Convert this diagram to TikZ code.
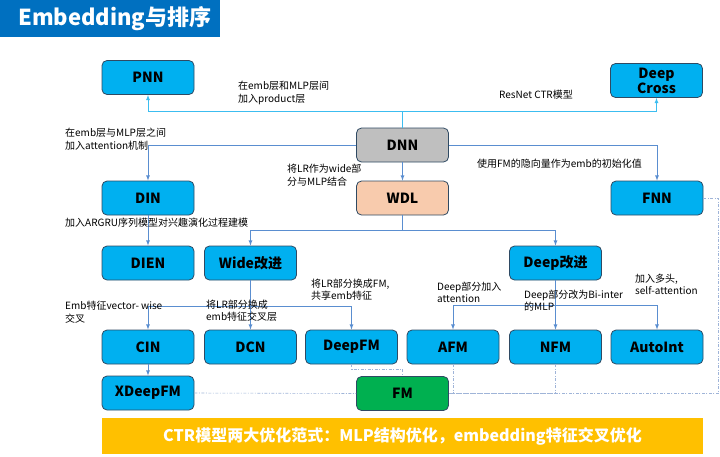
\documentclass[tikz,border=0pt]{standalone}
\usepackage{fontspec}
\setmainfont{Noto Sans CJK SC}
\usepackage{tikz}
\usetikzlibrary{arrows, calc}

\definecolor{boxblue}{HTML}{00B0F0}
\definecolor{boxline}{HTML}{2F4A63}
\definecolor{dnngrey}{HTML}{BFBFBF}
\definecolor{wdlorange}{HTML}{F8CBAD}
\definecolor{fmgreen}{HTML}{00B050}
\definecolor{headblue}{HTML}{0070C0}
\definecolor{bannergold}{HTML}{FFC000}
\definecolor{linkblue}{HTML}{5A8ED0}
\definecolor{linkcyan}{HTML}{3CBDF0}
\definecolor{dashblue}{HTML}{9FB4D8}

\begin{document}
\begin{tikzpicture}[x=1pt,y=-1pt,
        model/.style={draw=boxline, fill=boxblue, text=black, line width=0.8pt, rounded corners=5pt,
            minimum width=92pt, minimum height=34pt, inner sep=0pt, align=center,
            font=\fontsize{14}{15}\selectfont\bfseries},
        link/.style={draw=linkblue, line width=0.8pt, -latex},
        toplink/.style={draw=linkcyan, line width=0.8pt, -latex},
        fmlink/.style={draw=dashblue, line width=0.6pt, dash pattern=on 3pt off 1.5pt on 1pt off 1.5pt},
        note/.style={anchor=west, align=left, inner sep=0pt, text=black, font=\fontsize{10}{12.5}\selectfont}]
        \useasboundingbox (0,0) rectangle (720,456);

        % title bar
        \fill[headblue] (0,0) rectangle (220,37);
        \node[anchor=west, inner sep=0pt, text=white, font=\fontsize{22}{24}\selectfont\bfseries] (title) at (18,18.5) {Embedding与排序};

        % models
        \node[model] (pnn) at (148,77.5) {PNN};
        \node[model] (deepcross) at (656.5,80.5) {Deep\\Cross};
        \node[model, fill=dnngrey] (dnn) at (402.5,145) {DNN};
        \node[model, fill=wdlorange] (wdl) at (402.5,198) {WDL};
        \node[model] (din) at (148,198) {DIN};
        \node[model] (fnn) at (657,198) {FNN};
        \node[model] (dien) at (148,263) {DIEN};
        \node[model] (wide) at (250.5,263) {Wide改进};
        \node[model] (deep) at (555.5,263) {Deep改进};
        \node[model] (cin) at (148,347) {CIN};
        \node[model] (dcn) at (250.5,347) {DCN};
        \node[model] (deepfm) at (351.5,347) {DeepFM};
        \node[model] (afm) at (453,347) {AFM};
        \node[model] (nfm) at (555.5,347) {NFM};
        \node[model] (autoint) at (657,347) {AutoInt};
        \node[model] (xdeepfm) at (148,393) {XDeepFM};
        \node[model, fill=fmgreen] (fm) at (402.5,393.5) {FM};

        % bus points
        \coordinate (topbus) at (402.5,111);
        \coordinate (wdlbus) at (402.5,230);
        \coordinate (widebus) at (250.5,306);
        \coordinate (deepbus) at (555.5,305);

        % connectors
        \draw[toplink] (dnn.north) -- (topbus) -| (pnn.south);
        \draw[toplink] (topbus) -| (deepcross.south);
        \draw[link] (dnn.west) -| (din.north);
        \draw[link] (dnn.east) -| (fnn.north);
        \draw[link] (dnn.south) -- (wdl.north);
        \draw[link] (wdl.south) -- (wdlbus) -| (wide.north);
        \draw[link] (wdlbus) -| (deep.north);
        \draw[link] (din.south) -- (dien.north);
        \draw[link] (wide.south) -- (dcn.north);
        \draw[link] (widebus) -| (cin.north);
        \draw[link] (widebus) -| (deepfm.north);
        \draw[link] (deep.south) -- (nfm.north);
        \draw[link] (deepbus) -| (afm.north);
        \draw[link] (deepbus) -| (autoint.north);
        \draw[link] (cin.south) -- (xdeepfm.north);

        % dashed links into FM
        \draw[fmlink] (xdeepfm.east) -- (fm.west);
        \draw[fmlink] (deepfm.south) -- ++(0,5) -| (fm.north);
        \draw[fmlink] (afm.south) |- (fm.east);
        \draw[fmlink] (nfm.south) |- (fm.east);
        \draw[fmlink] (fnn.east) -- ++(15,0) |- (fm.east);

        % notes
        \node[note] (prodnote) at (238,93) {在emb层和MLP层间\\加入product层};
        \node[note, anchor=center] (resnote) at (536,95) {ResNet CTR模型};
        \node[note] (attnote) at (65,139) {在emb层与MLP层之间\\加入attention机制};
        \node[note] (wdlnote) at (287,175) {将LR作为wide部\\分与MLP结合};
        \node[note] (fnnnote) at (477,164) {使用FM的隐向量作为emb的初始化值};
        \node[note] (diennote) at (65,223) {加入ARGRU序列模型对兴趣演化过程建模};
        \node[note] (cinnote) at (65,312) {Emb特征vector- wise\\交叉};
        \node[note] (dcnnote) at (206,310.5) {将LR部分换成\\emb特征交叉层};
        \node[note] (deepfmnote) at (311,289.5) {将LR部分换成FM,\\共享emb特征};
        \node[note] (afmnote) at (437,292.5) {Deep部分加入\\attention};
        \node[note] (nfmnote) at (524,300.5) {Deep部分改为Bi-inter\\的MLP};
        \node[note] (autonote) at (635,284.5) {加入多头,\\self-attention};

        % banner
        \node[fill=bannergold, minimum width=601pt, minimum height=36pt, inner sep=0pt, text=white,
            font=\fontsize{16}{18}\selectfont\bfseries] (banner) at (402.5,436)
            {CTR模型两大优化范式：MLP结构优化，embedding特征交叉优化};
\end{tikzpicture}
\end{document}
